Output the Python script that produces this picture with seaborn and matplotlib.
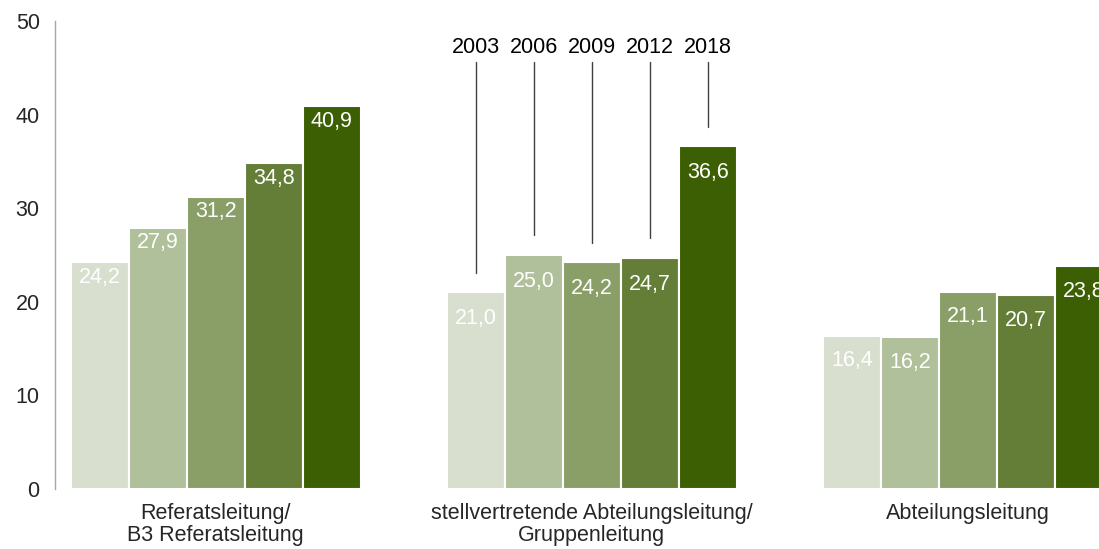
import matplotlib
matplotlib.use("Agg")
import matplotlib.pyplot as plt
import seaborn as sns
import pandas as pd

categories = ["Referatsleitung/\nB3 Referatsleitung",
              "stellvertretende Abteilungsleitung/\nGruppenleitung",
              "Abteilungsleitung"]
years = ["2003", "2006", "2009", "2012", "2018"]
v2003 = [24.2, 21.0, 16.4]
v2006 = [27.9, 25.0, 16.2]
v2009 = [31.2, 24.2, 21.1]
v2012 = [34.8, 24.7, 20.7]
v2018 = [40.9, 36.6, 23.8]
yticks = [0, 10, 20, 30, 40, 50]

colors = ["#D8DFCE", "#B0C09A", "#8A9F67", "#647E37", "#3D5F03"]

rows = []
for yr, vals in zip(years, [v2003, v2006, v2009, v2012, v2018]):
    for c, v in zip(categories, vals):
        rows.append({"Kategorie": c, "Jahr": yr, "Wert": v})
df = pd.DataFrame(rows)

sns.set_style("white")
plt.rcParams["font.family"] = ["Liberation Sans", "DejaVu Sans"]
FS = 15.5

fig = plt.figure(figsize=(10.99, 5.49), dpi=100)
ax = fig.add_axes([0.05, 0.1093, 0.95, 0.8524])

sns.barplot(data=df, x="Kategorie", y="Wert", hue="Jahr", order=categories,
            hue_order=years, palette=colors, width=0.77, saturation=1,
            edgecolor="white", linewidth=1.5, errorbar=None, legend=False, ax=ax)

ax.set_xlim(-0.4275, 2.348)
ax.set_ylim(0, 50)
ax.set_yticks(yticks)
ax.set_yticklabels([str(t) for t in yticks], fontsize=FS)
ax.set_xlabel("")
ax.set_ylabel("")
ax.tick_params(axis="x", length=0, pad=10, labelsize=FS)
ax.tick_params(axis="y", length=6, width=1, color="#A6A6A6", pad=5, direction="out")
for lbl in ax.get_xticklabels():
    lbl.set_linespacing(1.05)
for s in ["top", "right", "bottom"]:
    ax.spines[s].set_visible(False)
ax.spines["left"].set_color("#A6A6A6")
ax.spines["left"].set_linewidth(1)

label_offsets = [1.6, 2.8, 2.7]
for cont in ax.containers:
    for i, bar in enumerate(cont):
        h = bar.get_height()
        cx = bar.get_x() + bar.get_width() / 2
        ax.text(cx, h - label_offsets[i], f"{h:.1f}".replace(".", ","),
                ha="center", va="center", color="white", fontsize=FS)

# year annotations above the middle group
for yr, cont in zip(years, ax.containers):
    bar = cont[1]
    cx = bar.get_x() + bar.get_width() / 2
    h = bar.get_height()
    ax.plot([cx, cx], [h + 2.1, 45.6], color="#404040", linewidth=1)
    ax.text(cx, 47.2, yr, ha="center", va="center", color="black", fontsize=FS)

fig.savefig("out.png", dpi=100)
